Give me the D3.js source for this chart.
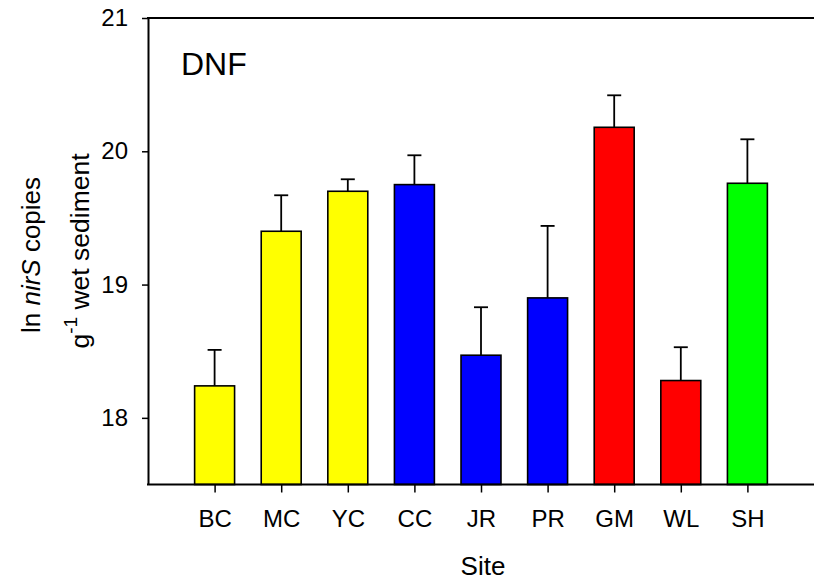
<!DOCTYPE html>
<html>
<head>
<meta charset="utf-8">
<script src="https://cdn.jsdelivr.net/npm/d3@7"></script>
<style>
  html, body { margin: 0; padding: 0; background: #fff; }
  svg { display: block; font-family: Arial, "Liberation Sans", sans-serif; }
</style>
</head>
<body>
<svg id="chart" width="814" height="581"></svg>
<script>
// ---- data ----
const sites  = ["BC", "MC", "YC", "CC", "JR", "PR", "GM", "WL", "SH"];
const means  = [18.24, 19.40, 19.70, 19.75, 18.47, 18.90, 20.18, 18.28, 19.76];
const errors = [0.27, 0.27, 0.09, 0.22, 0.36, 0.54, 0.24, 0.25, 0.33];
const colors = ["#FFFF00", "#FFFF00", "#FFFF00", "#0000FF", "#0000FF", "#0000FF", "#FF0000", "#FF0000", "#00FF00"];
const yTicks = [18, 19, 20, 21];
const yDomain = [17.5, 21];

// ---- layout ----
const plotL = 148, plotR = 814, plotT = 18, plotB = 484.5;
const svg = d3.select("#chart");

const y = d3.scaleLinear().domain(yDomain).range([plotB, plotT]);
const step = (plotR - plotL) / (sites.length + 1);
const x = d3.scalePoint().domain(sites).range([plotL + step, plotR - step]);
const barW = step * 0.6;

const data = sites.map((s, i) => ({ site: s, mean: means[i], err: errors[i], color: colors[i] }));

// bars
svg.append("g").selectAll("rect").data(data).join("rect")
  .attr("x", d => x(d.site) - barW / 2)
  .attr("y", d => y(d.mean))
  .attr("width", barW)
  .attr("height", d => y(yDomain[0]) - y(d.mean))
  .attr("fill", d => d.color)
  .attr("stroke", "#000")
  .attr("stroke-width", 1.6);

// error bars (upper only)
const eb = svg.append("g").attr("stroke", "#000").attr("stroke-width", 1.8);
eb.selectAll("line.v").data(data).join("line").attr("class", "v")
  .attr("x1", d => x(d.site)).attr("x2", d => x(d.site))
  .attr("y1", d => y(d.mean)).attr("y2", d => y(d.mean + d.err));
eb.selectAll("line.c").data(data).join("line").attr("class", "c")
  .attr("x1", d => x(d.site) - 7).attr("x2", d => x(d.site) + 7)
  .attr("y1", d => y(d.mean + d.err)).attr("y2", d => y(d.mean + d.err));

// y axis
const yAxis = svg.append("g").attr("transform", `translate(${plotL},0)`)
  .call(d3.axisLeft(y).tickValues(yTicks).tickSize(6).tickSizeOuter(0).tickPadding(14).tickFormat(d3.format("d")));
yAxis.select(".domain").attr("stroke-width", 2);
yAxis.selectAll(".tick line").attr("stroke-width", 1.5);
yAxis.selectAll("text").attr("font-size", 24).attr("font-family", "Arial, 'Liberation Sans', sans-serif").attr("fill", "#000");

// x axis
const xAxis = svg.append("g").attr("transform", `translate(0,${plotB})`)
  .call(d3.axisBottom(x).tickSize(8).tickSizeOuter(0));
xAxis.select(".domain").remove();
xAxis.selectAll(".tick line").attr("stroke-width", 1.5);
xAxis.selectAll("text").attr("font-size", 24).attr("font-family", "Arial, 'Liberation Sans', sans-serif")
  .attr("fill", "#000").attr("y", 527 - plotB).attr("dy", 0);

// frame lines (bottom and top)
svg.append("line").attr("x1", plotL - 1).attr("x2", plotR).attr("y1", plotB).attr("y2", plotB)
  .attr("stroke", "#000").attr("stroke-width", 2);
svg.append("line").attr("x1", plotL - 1).attr("x2", plotR).attr("y1", plotT).attr("y2", plotT)
  .attr("stroke", "#000").attr("stroke-width", 2);

// panel label
svg.append("text").attr("x", 181).attr("y", 75).attr("font-size", 32).text("DNF");

// x title
svg.append("text").attr("x", (plotL + plotR) / 2 + 2).attr("y", 575).attr("text-anchor", "middle")
  .attr("font-size", 26).text("Site");

// y title (two lines)
const t1 = svg.append("text").attr("transform", `translate(40,255) rotate(-90)`)
  .attr("text-anchor", "middle").attr("font-size", 26);
t1.append("tspan").text("ln ");
t1.append("tspan").attr("font-style", "italic").text("nirS");
t1.append("tspan").text(" copies");

const t2 = svg.append("text").attr("transform", `translate(89,251) rotate(-90)`)
  .attr("text-anchor", "middle").attr("font-size", 26.5);
t2.append("tspan").text("g");
t2.append("tspan").attr("font-size", 19).attr("dy", -12).text("-1");
t2.append("tspan").attr("dy", 12).text(" wet sediment");
</script>
</body>
</html>
